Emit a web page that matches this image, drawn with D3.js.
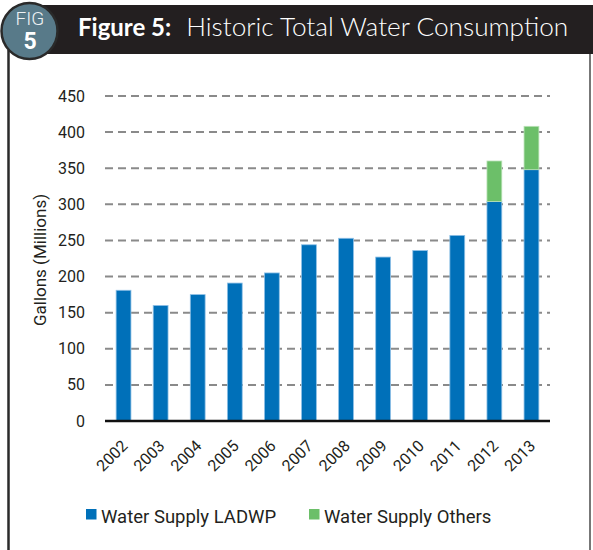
<!DOCTYPE html>
<html>
<head>
<meta charset="utf-8">
<script src="https://cdn.jsdelivr.net/npm/d3@7"></script>
<style>
  body { margin: 0; background: #fff; }
  svg { display: block; }
</style>
</head>
<body>
<div id="chart"></div>
<script>
// data
var years = ["2002", "2003", "2004", "2005", "2006", "2007", "2008", "2009", "2010", "2011", "2012", "2013"];
var ladwp = [181, 160, 175, 191, 205, 244, 253, 227, 236, 257, 304, 348];
var others = [0, 0, 0, 0, 0, 0, 0, 0, 0, 0, 56, 60];
var yTicks = [0, 50, 100, 150, 200, 250, 300, 350, 400, 450];
var seriesNames = ["Water Supply LADWP", "Water Supply Others"];

var W = 593, H = 550;
var blue = "#0070b9", green = "#6cbf69";

var svg = d3.select("#chart").append("svg")
  .attr("width", W)
  .attr("height", H);

// frame lines of the box
svg.append("line").attr("x1", 8.5).attr("x2", 8.5).attr("y1", 50).attr("y2", H)
  .attr("stroke", "#2a2a2a").attr("stroke-width", 2.5);
svg.append("line").attr("x1", 590).attr("x2", 590).attr("y1", 50).attr("y2", H)
  .attr("stroke", "#777").attr("stroke-width", 2);

// header band
svg.append("rect").attr("x", 30).attr("y", 5).attr("width", W - 30).attr("height", 49)
  .attr("fill", "#231f20");
svg.append("circle").attr("cx", 29.5).attr("cy", 31).attr("r", 28)
  .attr("fill", "#587a89").attr("stroke", "#2a2a2a").attr("stroke-width", 2.5);
svg.append("text").attr("x", 30).attr("y", 25).attr("text-anchor", "middle")
  .style("font-family", "Roboto, sans-serif").style("font-weight", 300)
  .style("font-size", "19px").attr("fill", "#eef2f4").text("FIG");
svg.append("text").attr("x", 30).attr("y", 49).attr("text-anchor", "middle")
  .style("font-family", "Roboto, sans-serif").style("font-weight", 700)
  .style("font-size", "23px").attr("fill", "#fff").text("5");

var title = svg.append("text").attr("x", 78).attr("y", 36)
  .style("font-family", "Lato, sans-serif")
  .attr("fill", "#fff");
title.append("tspan").style("font-weight", 700).style("font-size", "24px").text("Figure 5:");
title.append("tspan").attr("dx", 15).style("font-weight", 300).style("font-size", "26.2px")
  .text("Historic Total Water Consumption");

// plot area
var x0 = 105, x1 = 550;
var yBase = 421, yTop = 96;

var x = d3.scaleBand().domain(years).range([x0, x1])
  .paddingInner(0.6).paddingOuter(0.3);
var y = d3.scaleLinear().domain([0, 450]).range([yBase, yTop]);

// dashed grid
svg.append("g")
  .selectAll("line")
  .data(yTicks.filter(function (d) { return d > 0; }))
  .enter()
  .append("line")
  .attr("x1", x0).attr("x2", x1)
  .attr("y1", function (d) { return y(d); })
  .attr("y2", function (d) { return y(d); })
  .attr("stroke", "#8a8a8a")
  .attr("stroke-width", 2)
  .attr("stroke-dasharray", "8,5");

// y tick labels
svg.append("g")
  .selectAll("text")
  .data(yTicks)
  .enter()
  .append("text")
  .attr("x", 85)
  .attr("y", function (d) { return y(d); })
  .attr("dy", "0.35em")
  .attr("text-anchor", "end")
  .style("font-family", "Roboto, sans-serif")
  .style("font-size", "16px")
  .attr("fill", "#231f20")
  .text(function (d) { return d; });

// y title
svg.append("text")
  .attr("transform", "translate(46,260) rotate(-90)")
  .attr("text-anchor", "middle")
  .style("font-family", "Roboto, sans-serif")
  .style("font-size", "17px")
  .attr("fill", "#231f20")
  .text("Gallons (Millions)");

// stacked bars
var rows = years.map(function (yr, i) {
  return { year: yr, ladwp: ladwp[i], others: others[i] };
});
var stack = d3.stack().keys(["ladwp", "others"])(rows);
var fills = [blue, green];
var edges = ["#8fc0e6", "#b9e2b6"];

svg.append("g")
  .selectAll("g")
  .data(stack)
  .enter()
  .append("g")
  .attr("fill", function (d, i) { return fills[i]; })
  .attr("stroke", function (d, i) { return edges[i]; })
  .selectAll("rect")
  .data(function (d) { return d.filter(function (p) { return p[1] > p[0]; }); })
  .enter()
  .append("rect")
  .attr("x", function (d) { return x(d.data.year); })
  .attr("y", function (d) { return y(d[1]); })
  .attr("width", x.bandwidth())
  .attr("height", function (d) { return y(d[0]) - y(d[1]); })
  .attr("stroke-width", 0.8);

// zero line
svg.append("line").attr("x1", x0).attr("x2", x1).attr("y1", yBase).attr("y2", yBase)
  .attr("stroke", "#111").attr("stroke-width", 2.5);

// x labels
svg.append("g")
  .selectAll("text")
  .data(years)
  .enter()
  .append("text")
  .attr("transform", function (d) {
    return "translate(" + (x(d) + x.bandwidth() / 2 + 5) + ",447) rotate(-45)";
  })
  .attr("text-anchor", "end")
  .style("font-family", "Roboto, sans-serif")
  .style("font-size", "16px")
  .attr("fill", "#231f20")
  .text(function (d) { return d; });

// legend
var legendX = [86, 309];
var legend = svg.append("g")
  .selectAll("g")
  .data(seriesNames)
  .enter()
  .append("g")
  .attr("transform", function (d, i) { return "translate(" + legendX[i] + ",509)"; });
legend.append("rect").attr("width", 10.5).attr("height", 10.5)
  .attr("fill", function (d, i) { return fills[i]; });
legend.append("text").attr("x", 15).attr("y", 14)
  .style("font-family", "Roboto, sans-serif")
  .style("font-size", "18.5px")
  .attr("fill", "#231f20")
  .text(function (d) { return d; });
</script>
</body>
</html>
